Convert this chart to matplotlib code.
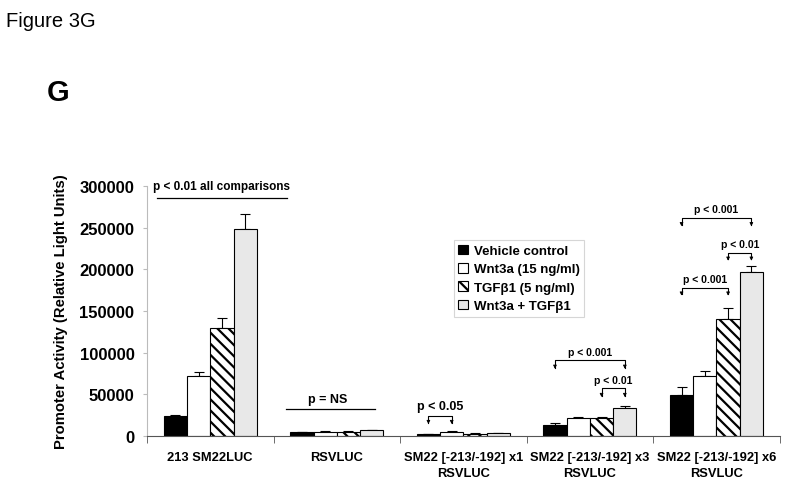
import numpy as np
import matplotlib
matplotlib.use("Agg")
import matplotlib.pyplot as plt

plt.rcParams['font.family'] = ['Liberation Sans', 'DejaVu Sans']
plt.rcParams['hatch.linewidth'] = 1.6

groups = ['213 SM22LUC', 'RSVLUC', 'SM22 [-213/-192] x1\nRSVLUC',
          'SM22 [-213/-192] x3\nRSVLUC', 'SM22 [-213/-192] x6\nRSVLUC']
series = ['Vehicle control', 'Wnt3a (15 ng/ml)', 'TGF\u03b21 (5 ng/ml)', 'Wnt3a + TGF\u03b21']

vehicle = [23300, 4000, 1800, 12500, 48600]
wnt3a = [71400, 4800, 4800, 21300, 72200]
tgfb1 = [129200, 5000, 2000, 21300, 140000]
combo = [248600, 6500, 2800, 33300, 197300]

vehicle_err = [2000, 400, 300, 2400, 9600]
wnt3a_err = [4800, 700, 400, 1600, 6000]
tgfb1_err = [12000, 500, 800, 700, 13200]
combo_err = [17700, 500, 300, 2000, 6900]

values = [vehicle, wnt3a, tgfb1, combo]
errors = [vehicle_err, wnt3a_err, tgfb1_err, combo_err]
faces = ['black', 'white', 'white', '#e8e8e8']
hatches = [None, None, '\\\\\\', None]

fig = plt.figure(figsize=(7.88, 4.89), dpi=100)
ax = fig.add_axes([0.1865, 0.107, 0.803, 0.51])

x = np.arange(len(groups))
w = 0.184
for i in range(4):
    pos = x + (i - 1.5) * w
    ax.bar(pos, values[i], w, color=faces[i], edgecolor='black', linewidth=0.8,
           hatch=hatches[i], label=series[i], zorder=2)
    ax.errorbar(pos, values[i], yerr=[np.zeros(len(groups)), errors[i]], fmt='none',
                ecolor='black', elinewidth=0.8, capsize=3.5, capthick=0.8, zorder=1)

ax.set_xlim(-0.5, 4.5)
ax.set_ylim(0, 300000)
ax.set_yticks(np.arange(0, 300001, 50000))
ax.set_yticklabels([str(v) for v in range(0, 300001, 50000)], fontsize=12, fontweight='bold')
ax.set_xticks(x)
ax.set_xticklabels(groups, fontsize=9.3, fontweight='bold', linespacing=1.4)
ax.tick_params(axis='x', length=0, pad=11)
ax.set_xticks(np.arange(-0.5, 5, 1), minor=True)
ax.tick_params(axis='x', which='minor', length=5, color='#555555')
ax.tick_params(axis='y', length=3, color='#bbbbbb', pad=6)
ax.set_ylabel('Promoter Activity (Relative Light Units)', fontsize=10.7, fontweight='bold', labelpad=8)

for s in ['top', 'right']:
    ax.spines[s].set_visible(False)
ax.spines['left'].set_color('#bbbbbb')
ax.spines['bottom'].set_color('#555555')

# significance annotations
ax.plot([-0.42, 0.606], [285600, 285600], color='black', lw=0.9, clip_on=False)
ax.text(0.09, 293000, 'p < 0.01 all comparisons', ha='center', va='bottom', fontsize=8.5, fontweight='bold')
ax.plot([0.6, 1.3], [32500, 32500], color='black', lw=0.9)
ax.text(0.93, 36500, 'p = NS', ha='center', va='bottom', fontsize=9, fontweight='bold')


def bracket(g, a, b, y, drop, label, fs, dy):
    xa = g + (a - 1.5) * w
    xb = g + (b - 1.5) * w
    ax.plot([xa, xa, xb, xb], [y - drop, y, y, y - drop], color='black', lw=0.8)
    for xx in (xa, xb):
        ax.annotate('', xy=(xx, y - drop - 1500), xytext=(xx, y - drop + 1000),
                    arrowprops=dict(arrowstyle='-|>', color='black', lw=0.6,
                                    mutation_scale=5, shrinkA=0, shrinkB=0))
    ax.text((xa + xb) / 2, y + dy, label, ha='center', va='bottom', fontsize=fs, fontweight='bold')


bracket(2, 0, 1, 24000, 8500, 'p < 0.05', 9, 4500)
bracket(3, 0, 3, 91000, 9000, 'p < 0.001', 7.5, 4000)
bracket(3, 2, 3, 57000, 9000, 'p < 0.01', 7.5, 4000)
bracket(4, 0, 2, 178000, 8000, 'p < 0.001', 7.5, 4000)
bracket(4, 2, 3, 220000, 8000, 'p < 0.01', 7.5, 4000)
bracket(4, 0, 3, 262000, 8500, 'p < 0.001', 7.5, 4500)

leg = ax.legend(loc='upper left', bbox_to_anchor=(0.485, 0.785),
                prop={'weight': 'bold', 'size': 9.5}, frameon=True, fancybox=False,
                handlelength=0.75, handleheight=0.75, handletextpad=0.4,
                borderpad=0.35, labelspacing=0.45, borderaxespad=0)
leg.get_frame().set_edgecolor('#cccccc')
leg.get_frame().set_linewidth(0.8)

fig.text(0.007, 0.945, 'Figure 3G', fontsize=14.5, ha='left', va='baseline')
fig.text(0.059, 0.794, 'G', fontsize=21, fontweight='bold', ha='left', va='baseline')

fig.savefig('out.png', dpi=100)
